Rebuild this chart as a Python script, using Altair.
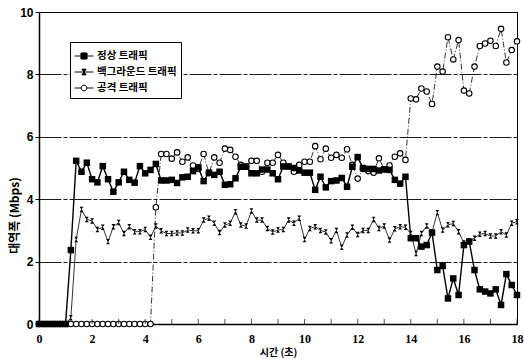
import altair as alt
import pandas as pd

time_s = [0.0, 0.2, 0.4, 0.6, 0.8, 1.0, 1.2, 1.4, 1.6, 1.8, 2.0, 2.2, 2.4, 2.6, 2.8,
          3.0, 3.2, 3.4, 3.6, 3.8, 4.0, 4.2, 4.4, 4.6, 4.8, 5.0, 5.2, 5.4, 5.6, 5.8,
          6.0, 6.2, 6.4, 6.6, 6.8, 7.0, 7.2, 7.4, 7.6, 7.8, 8.0, 8.2, 8.4, 8.6, 8.8,
          9.0, 9.2, 9.4, 9.6, 9.8, 10.0, 10.2, 10.4, 10.6, 10.8, 11.0, 11.2, 11.4, 11.6, 11.8,
          12.0, 12.2, 12.4, 12.6, 12.8, 13.0, 13.2, 13.4, 13.6, 13.8, 14.0, 14.2, 14.4, 14.6, 14.8,
          15.0, 15.2, 15.4, 15.6, 15.8, 16.0, 16.2, 16.4, 16.6, 16.8, 17.0, 17.2, 17.4, 17.6, 17.8,
          18.0]

normal = [0, 0, 0, 0, 0,
          0, 2.37, 5.23, 4.88, 5.17,
          4.64, 4.54, 5.06, 4.64, 4.24,
          4.54, 4.88, 4.62, 4.53, 5.06,
          4.83, 4.94, 5.13, 4.6, 4.6,
          4.62, 4.52, 4.7, 4.72, 4.9,
          5.02, 4.58, 4.85, 4.78, 4.88,
          4.46, 4.48, 4.67, 5.04, 5.04,
          4.83, 4.83, 4.95, 4.95, 4.83,
          4.64, 5.05, 5.05, 5.0, 4.92,
          4.85, 4.85, 4.3, 4.72, 4.38,
          4.58, 4.6, 4.68, 4.4, 5.04,
          5.35, 5.0, 4.97, 4.97, 4.92,
          4.96, 4.94, 4.62, 4.5, 4.72,
          2.75, 2.75, 2.48, 2.53, 2.93,
          1.73, 1.86, 0.82, 1.46, 0.93,
          2.53, 2.64, 1.73, 1.11, 1.04,
          0.98, 1.11, 0.61, 1.6, 1.25,
          0.93]

background = [0, 0, 0, 0, 0,
              0, 0.2, 2.71, 3.67, 3.35,
              3.3, 3.03, 3.1, 2.64, 3.12,
              3.25, 2.9, 3.12, 2.96, 2.96,
              3.03, 2.78, 3.14, 2.99, 2.9,
              2.9, 2.92, 2.92, 3.01, 2.99,
              2.99, 3.33, 3.39, 3.23, 2.93,
              3.17, 3.23, 3.6, 3.17, 3.14,
              3.62, 3.33, 3.33, 3.06, 2.95,
              3.01, 3.03, 3.33, 3.23, 3.39,
              2.71, 3.06, 3.12, 3.0, 2.95,
              2.67, 3.0, 2.46, 2.85, 3.1,
              2.87, 3.0, 3.0, 3.35, 3.06,
              3.14, 2.69, 3.05, 3.12, 3.1,
              2.9, 2.26, 2.9, 3.14, 2.95,
              3.57, 3.01, 3.18, 3.22, 2.96,
              2.6, 2.66, 2.75, 2.88, 2.9,
              2.82, 2.82, 2.96, 2.85, 3.23,
              3.28]

attack = [0, 0, 0, 0, 0,
          0, 0, 0, 0, 0,
          0, 0, 0, 0, 0,
          0, 0, 0, 0, 0,
          0, 0, 3.74, 5.45, 5.45,
          5.3, 5.5, 5.2, 5.34, 5.08,
          4.97, 5.45, 4.83, 5.34, 5.17,
          5.62, 5.58, 5.36, 5.1, 5.05,
          5.23, 5.23, 4.88, 5.17, 5.17,
          5.42, 5.17, 5.05, 4.88, 5.1,
          5.2, 5.2, 5.7, 5.28, 5.62,
          5.33, 5.42, 5.33, 5.6, 5.1,
          4.66, 4.97, 4.9, 4.85, 5.31,
          4.95, 5.08, 5.36, 5.47, 5.26,
          7.23, 7.2, 7.55, 7.45, 7.05,
          8.25, 8.09, 9.19, 8.48, 9.1,
          7.48, 7.39, 8.25, 8.91, 8.99,
          9.08, 8.91, 9.46, 8.38, 8.78,
          9.06]

series_names = ["정상 트래픽", "백그라운드 트래픽", "공격 트래픽"]
x_tick_values = [0, 1, 2, 3, 4, 5, 6, 7, 8, 9, 10, 11, 12, 13, 14, 15, 16, 17, 18]
y_tick_values = [0, 2, 4, 6, 8, 10]

df_normal = pd.DataFrame({"time": time_s, "value": normal, "series": series_names[0]})
df_bg = pd.DataFrame({"time": time_s, "value": background, "series": series_names[1]})
df_attack = pd.DataFrame({"time": time_s, "value": attack, "series": series_names[2]})
df_all = pd.concat([df_normal, df_bg, df_attack], ignore_index=True)
df_ticks = pd.DataFrame({"t": x_tick_values})

hourglass = "M-0.7,-1H0.7L-0.7,1H0.7Z"
legend_paths = [
    "M-1,0H1M-0.32,-0.32H0.32V0.32H-0.32Z",
    "M-1,0H1M-0.22,-0.3H0.22L-0.22,0.3H0.22Z",
    "M-1,0H-0.3M0.3,0H1M0.3,0A0.3,0.3 0 1,1 -0.3,0A0.3,0.3 0 1,1 0.3,0Z",
]

x_enc = alt.X(
    "time:Q",
    scale=alt.Scale(domain=[0, 18], nice=False, zero=False),
    axis=alt.Axis(
        values=x_tick_values,
        labelExpr="datum.value % 2 == 0 ? datum.label : ''",
        ticks=False,
        grid=False,
        labelFont="Liberation Serif",
        labelFontSize=12,
        labelFontWeight="bold",
        labelColor="black",
        labelPadding=9,
        labelFlush=False,
        domainColor="black",
        domainWidth=1.5,
        title="시간 (초)",
        titleFont="Noto Sans CJK KR",
        titleFontSize=10,
        titleFontWeight="bold",
        titleColor="black",
        titleY=23,
        titleBaseline="top",
    ),
)
y_enc = alt.Y(
    "value:Q",
    scale=alt.Scale(domain=[0, 10], nice=False),
    axis=alt.Axis(
        values=y_tick_values,
        title="대역폭 (Mbps)",
        titleFont="Noto Sans CJK KR",
        titleFontSize=12,
        titleFontWeight="bold",
        titleColor="black",
        titleAngle=270,
        titleX=-25,
        titleY=203,
        titleAlign="center",
        titleBaseline="middle",
        labelFont="Liberation Sans",
        labelFontSize=12,
        labelFontWeight="bold",
        labelColor="black",
        labelPadding=2,
        labelFlush=False,
        tickSize=4,
        tickColor="black",
        domainColor="black",
        domainWidth=1.5,
        grid=True,
        gridColor="black",
        gridWidth=0.9,
        gridDash=[22, 2, 4, 2],
    ),
)

attack_line = alt.Chart(df_attack).mark_line(
    color="black", strokeWidth=0.8, strokeDash=[6, 2, 1, 2]
).encode(x=x_enc, y=y_enc)
attack_pts = alt.Chart(df_attack).mark_point(
    shape="circle", filled=True, fill="white", stroke="black", strokeWidth=1.1, size=30, opacity=1
).encode(x="time:Q", y="value:Q")

bg_line = alt.Chart(df_bg).mark_line(color="black", strokeWidth=0.8).encode(x="time:Q", y="value:Q")
bg_pts = alt.Chart(df_bg).mark_point(
    shape=hourglass, filled=True, color="black", size=30, opacity=1
).encode(x="time:Q", y="value:Q")

normal_line = alt.Chart(df_normal).mark_line(color="black", strokeWidth=1.4).encode(x="time:Q", y="value:Q")
normal_pts = alt.Chart(df_normal).mark_point(
    shape="square", filled=True, color="black", size=42, opacity=1
).encode(x="time:Q", y="value:Q")

ticks = alt.Chart(df_ticks).mark_tick(
    orient="vertical", color="black", size=5, thickness=1
).encode(x="t:Q", y=alt.datum(0), yOffset=alt.value(-2.5))

legend_kw = dict(
    orient="none",
    legendX=31,
    legendY=30,
    title=None,
    strokeColor="black",
    fillColor="white",
    padding=4,
    symbolSize=361,
    symbolStrokeWidth=1,
    labelFont="Noto Sans CJK KR",
    labelFontSize=10.5,
    labelFontWeight="bold",
    labelColor="black",
    labelOffset=3,
    rowPadding=0,
    cornerRadius=0,
)

legend_layer = alt.Chart(df_all).transform_filter("datum.value < -100").mark_point(
    filled=True, strokeWidth=1, opacity=1
).encode(
    x="time:Q",
    y="value:Q",
    shape=alt.Shape("series:N", scale=alt.Scale(domain=series_names, range=legend_paths),
                    legend=alt.Legend(**legend_kw)),
    fill=alt.Fill("series:N", scale=alt.Scale(domain=series_names, range=["black", "black", "white"]),
                  legend=alt.Legend(**legend_kw)),
    stroke=alt.Stroke("series:N", scale=alt.Scale(domain=series_names, range=["black", "black", "black"]),
                      legend=alt.Legend(**legend_kw)),
)

chart = alt.layer(
    attack_line, attack_pts, bg_line, bg_pts, normal_line, normal_pts, ticks, legend_layer
).properties(
    width=478,
    height=312,
    autosize=alt.AutoSizeParams(type="none"),
    padding={"left": 39, "top": 12, "right": 7, "bottom": 35},
    background="white",
).configure_view(stroke="black", strokeWidth=1)

chart.save("out.html", embed_options={"renderer": "svg", "actions": False})
